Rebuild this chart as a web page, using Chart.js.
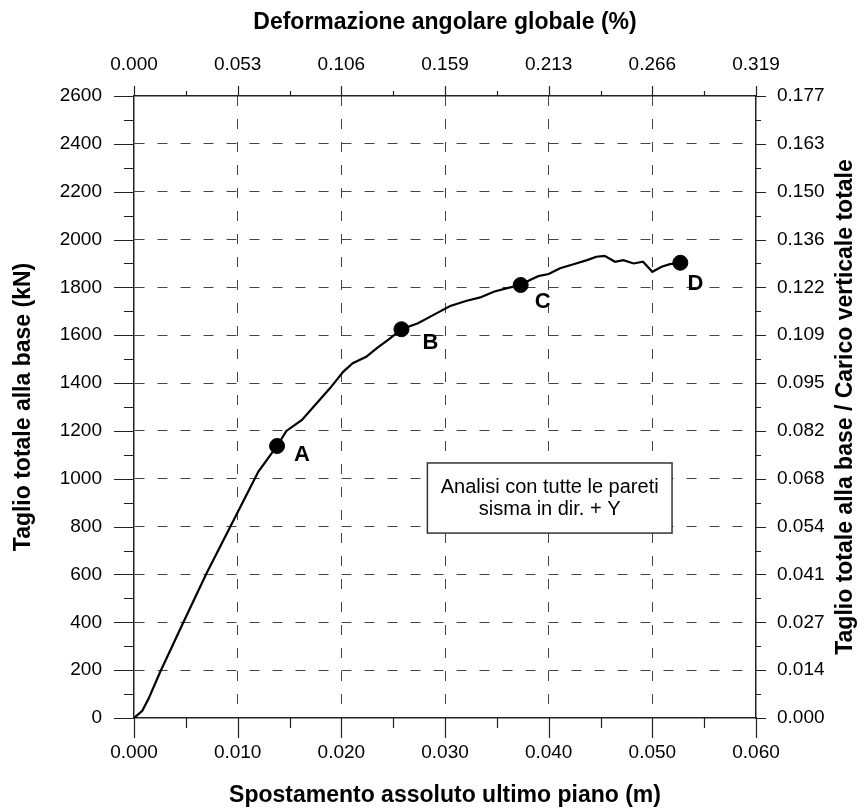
<!DOCTYPE html>
<html>
<head>
<meta charset="utf-8">
<script src="https://cdn.jsdelivr.net/npm/chart.js@4.4.1/dist/chart.umd.min.js"></script>
<style>
  body { margin: 0; background: #fff; }
  #wrap { width: 864px; height: 812px; }
</style>
</head>
<body>
<div id="wrap"><canvas id="pushover"></canvas></div>
<script>
// pushover curve: top displacement (m) vs total base shear (kN)
const displ = [0, 0.0008, 0.0014, 0.0025, 0.0048, 0.0070, 0.0093, 0.0106, 0.0120, 0.0138, 0.0147,
  0.0162, 0.0176, 0.0189, 0.0202, 0.0211, 0.0224, 0.0234, 0.0247, 0.0258, 0.0274,
  0.0289, 0.0305, 0.0321, 0.0334, 0.0347, 0.0359, 0.0373, 0.0382, 0.0390, 0.0400,
  0.0411, 0.0424, 0.0437, 0.0446, 0.0454, 0.0464, 0.0472, 0.0482, 0.0491, 0.0500,
  0.0509, 0.0517, 0.0527];
const shear = [0, 30, 80, 190, 403, 605, 800, 911, 1030, 1137, 1200,
  1246, 1315, 1378, 1448, 1483, 1510, 1545, 1587, 1625, 1650,
  1685, 1722, 1744, 1758, 1782, 1796, 1810, 1831, 1847, 1856,
  1880, 1897, 1914, 1928, 1932, 1907, 1914, 1900, 1907, 1865,
  1886, 1897, 1903];

// marked steps
const stepNames = ["A", "B", "C", "D"];
const stepDispl = [0.0138, 0.0258, 0.0373, 0.0527];
const stepShear = [1137, 1625, 1810, 1903];

// secondary axis labels
const topTickLabels = ["0.000", "0.053", "0.106", "0.159", "0.213", "0.266", "0.319"];
const rightTickLabels = ["0.000", "0.014", "0.027", "0.041", "0.054", "0.068", "0.082",
  "0.095", "0.109", "0.122", "0.136", "0.150", "0.163", "0.177"];

const noteLines = ["Analisi con tutte le pareti", "sisma in dir. + Y"];

const FONT = "'Liberation Sans', Arial, sans-serif";
const GRID = "#444";
const AXIS = "#222";
const TITLE_SIZE = 23;
const TICK_SIZE = 19;

function edgeGrid(last) {
  return ctx => (ctx.index === 0 || ctx.index === last) ? "rgba(0,0,0,0)" : GRID;
}

// tick marks (major + minor) drawn outward from each axis
const tickMarks = {
  id: "tickMarks",
  afterDraw(chart) {
    const c = chart.ctx;
    const { x, y } = chart.scales;
    const a = chart.chartArea;
    c.save();
    c.strokeStyle = AXIS;
    c.lineWidth = 1.2;
    c.beginPath();
    for (let v = 0; v <= 0.0601; v += 0.005) {
      const px = Math.round(x.getPixelForValue(v)) + 0.5;
      const major = Math.round(v / 0.005) % 2 === 0;
      c.moveTo(px, a.bottom); c.lineTo(px, a.bottom + (major ? 20 : 10));
      c.moveTo(px, a.top); c.lineTo(px, a.top - (major ? 10 : 5));
    }
    for (let v = 0; v <= 2600; v += 100) {
      const py = Math.round(y.getPixelForValue(v)) + 0.5;
      const major = v % 200 === 0;
      c.moveTo(a.left, py); c.lineTo(a.left - (major ? 20 : 10), py);
      c.moveTo(a.right, py); c.lineTo(a.right + (major ? 10 : 5), py);
    }
    c.stroke();

    // step labels
    const offs = [[25, 9], [29, 14], [22, 17], [15, 21]];
    c.fillStyle = "#000";
    c.font = "bold 22px " + FONT;
    c.textAlign = "center";
    c.textBaseline = "middle";
    stepNames.forEach((n, i) => {
      c.fillText(n, x.getPixelForValue(stepDispl[i]) + offs[i][0],
        y.getPixelForValue(stepShear[i]) + offs[i][1]);
    });

    // note box
    const bx1 = x.getPixelForValue(0.0283), bx2 = x.getPixelForValue(0.0519);
    const by1 = y.getPixelForValue(1066), by2 = y.getPixelForValue(773);
    c.fillStyle = "#fff";
    c.fillRect(bx1, by1, bx2 - bx1, by2 - by1);
    c.strokeStyle = "#333";
    c.lineWidth = 1.5;
    c.strokeRect(bx1, by1, bx2 - bx1, by2 - by1);
    c.fillStyle = "#000";
    c.font = "20px " + FONT;
    const cx = (bx1 + bx2) / 2, cy = (by1 + by2) / 2;
    c.fillText(noteLines[0], cx, cy - 11);
    c.fillText(noteLines[1], cx, cy + 11);

    // right axis title, reading upward
    c.save();
    c.translate(846, (a.top + a.bottom) / 2);
    c.rotate(-Math.PI / 2);
    c.font = "bold " + TITLE_SIZE + "px " + FONT;
    c.fillText("Taglio totale alla base / Carico verticale totale", 0, 0);
    c.restore();
    c.restore();
  }
};

new Chart(document.getElementById("pushover"), {
  type: "scatter",
  data: {
    datasets: [
      {
        data: stepDispl.map((d, i) => ({ x: d, y: stepShear[i] })),
        pointRadius: 7.5,
        pointBackgroundColor: "#000",
        pointBorderColor: "#000",
        showLine: false,
        order: 0
      },
      {
        data: displ.map((d, i) => ({ x: d, y: shear[i] })),
        showLine: true,
        borderColor: "#000",
        borderWidth: 2.2,
        pointRadius: 0,
        tension: 0,
        order: 1
      }
    ]
  },
  options: {
    responsive: true,
    maintainAspectRatio: false,
    animation: false,
    layout: { padding: 0 },
    plugins: { legend: { display: false }, tooltip: { enabled: false } },
    scales: {
      x: {
        type: "linear", position: "bottom", min: 0, max: 0.06,
        afterFit: s => { s.height = 94; },
        ticks: { stepSize: 0.01, padding: 23, color: "#000", font: { family: FONT, size: TICK_SIZE },
          callback: v => v.toFixed(3) },
        grid: { color: edgeGrid(6), lineWidth: 1, drawTicks: false },
        border: { display: true, color: AXIS, width: 1.5, dash: [10, 13] },
        title: { display: true, text: "Spostamento assoluto ultimo piano (m)", color: "#000",
          font: { family: FONT, size: TITLE_SIZE, weight: "bold" }, padding: { top: 0, bottom: 3 } }
      },
      x2: {
        type: "linear", position: "top", min: 0, max: 0.06,
        afterFit: s => { s.height = 96; },
        ticks: { stepSize: 0.01, padding: 20, color: "#000", font: { family: FONT, size: TICK_SIZE },
          callback: (v, i) => topTickLabels[i] },
        grid: { drawOnChartArea: false, drawTicks: false },
        border: { display: true, color: AXIS, width: 1.5 },
        title: { display: true, text: "Deformazione angolare globale (%)", color: "#000",
          font: { family: FONT, size: TITLE_SIZE, weight: "bold" }, padding: { top: 9, bottom: 0 } }
      },
      y: {
        type: "linear", position: "left", min: 0, max: 2600,
        afterFit: s => { s.width = 134; },
        ticks: { stepSize: 200, padding: 32, color: "#000", font: { family: FONT, size: TICK_SIZE },
          callback: v => String(v) },
        grid: { color: edgeGrid(13), lineWidth: 1, drawTicks: false },
        border: { display: true, color: AXIS, width: 1.5, dash: [10, 13] },
        title: { display: true, text: "Taglio totale alla base (kN)", color: "#000",
          font: { family: FONT, size: TITLE_SIZE, weight: "bold" }, padding: { top: 10, bottom: 0 } }
      },
      y2: {
        type: "linear", position: "right", min: 0, max: 2600,
        afterFit: s => { s.width = 108; },
        ticks: { stepSize: 200, padding: 21, color: "#000", font: { family: FONT, size: TICK_SIZE },
          callback: (v, i) => rightTickLabels[i] },
        grid: { drawOnChartArea: false, drawTicks: false },
        border: { display: true, color: AXIS, width: 1.5 }
      }
    }
  },
  plugins: [tickMarks]
});
</script>
</body>
</html>
